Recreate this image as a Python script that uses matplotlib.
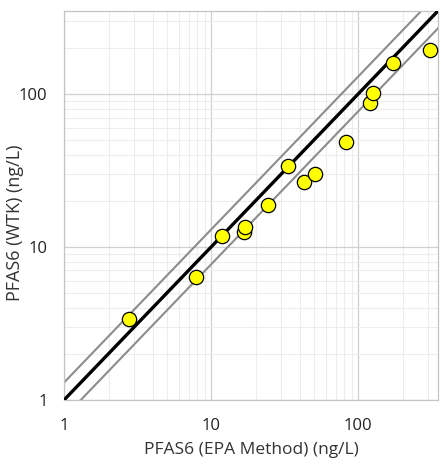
import matplotlib
matplotlib.use("Agg")
import matplotlib.pyplot as plt
import numpy as np
from matplotlib.ticker import LogLocator, FixedLocator, FixedFormatter, NullFormatter

# Data
epa = [2.77, 7.83, 11.8, 16.7, 16.9, 24.2, 33.4, 42.9, 50.8, 82.1, 120, 126.5, 173, 307]
wtk = [3.38, 6.30, 11.7, 12.4, 13.5, 18.9, 34.0, 26.5, 30.0, 48.3, 86.8, 101.5, 159, 194]
line_range = [1, 350]
band_factor = 1.3
tick_vals = [1, 10, 100]
tick_labels = ["1", "10", "100"]

plt.rcParams['font.family'] = ['Open Sans', 'DejaVu Sans']

fig = plt.figure(figsize=(4.42, 4.66), dpi=100)
ax = fig.add_axes([0.1455, 0.1423, 0.846, 0.8348])
ax.set_xscale('log')
ax.set_yscale('log')
ax.set_xlim(line_range)
ax.set_ylim(line_range)

lr = np.array(line_range, dtype=float)
ax.plot(lr, lr * band_factor, color='#8c8c8c', lw=1.5, zorder=2)
ax.plot(lr, lr / band_factor, color='#8c8c8c', lw=1.5, zorder=2)
ax.plot(lr, lr, color='black', lw=2.4, zorder=3)

ax.plot(epa, wtk, 'o', markersize=10.3, markerfacecolor='#ffff00',
        markeredgecolor='black', markeredgewidth=0.9, zorder=4, clip_on=False)

for axis in (ax.xaxis, ax.yaxis):
    axis.set_major_locator(FixedLocator(tick_vals))
    axis.set_major_formatter(FixedFormatter(tick_labels))
    axis.set_minor_locator(LogLocator(base=10, subs=np.arange(2, 10)))
    axis.set_minor_formatter(NullFormatter())

ax.grid(True, which='major', color='#d0d0d0', lw=0.9, zorder=0)
ax.grid(True, which='minor', color='#ededed', lw=0.8, zorder=0)
ax.set_axisbelow(True)

ax.tick_params(which='both', length=0)
ax.tick_params(axis='x', pad=13, labelsize=12, colors='#222222')
ax.tick_params(axis='y', pad=12, labelsize=12, colors='#222222')

for s in ax.spines.values():
    s.set_color('#c4c4c4')
    s.set_linewidth(0.9)

ax.set_xlabel('PFAS6 (EPA Method) (ng/L)', fontsize=12.5, color='#333333')
ax.set_ylabel('PFAS6 (WTK) (ng/L)', fontsize=13, color='#333333')
ax.xaxis.set_label_coords(0.5, -0.13)
ax.yaxis.set_label_coords(-0.132, 0.455)
ax.xaxis.label.set_va('center')
ax.yaxis.label.set_va('center')

fig.savefig('out.png', dpi=100)
